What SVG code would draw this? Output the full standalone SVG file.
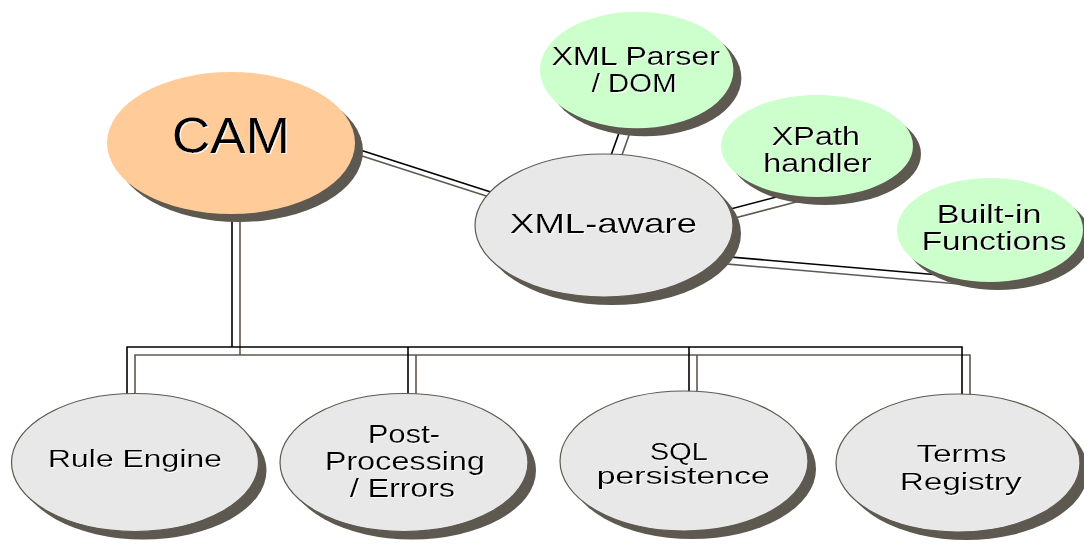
<svg xmlns="http://www.w3.org/2000/svg" xmlns:xlink="http://www.w3.org/1999/xlink" width="1084" height="547" viewBox="0 0 1084 547">
<style>
.shadow{fill:#5e5950;}
.gray{fill:#e8e8e8;stroke:#5e5950;stroke-width:1.2;}
.green{fill:#ccffcc;}
.cam{fill:#ffcc99;}
text{font-family:"Liberation Sans",Arial,sans-serif;fill:#000;filter:url(#ts);}
.line{fill:none;stroke:#000;stroke-width:1.6;}
.line-shadow{fill:none;stroke:#5e5950;stroke-width:1.6;}
</style>
<defs>
<filter id="ts" x="-10%" y="-20%" width="120%" height="140%">
<feFlood flood-color="#ffffff" result="w"/>
<feComposite in="w" in2="SourceAlpha" operator="in" result="wt"/>
<feOffset in="wt" dx="1.3" dy="1.3" result="off"/>
<feMerge><feMergeNode in="off"/><feMergeNode in="SourceGraphic"/></feMerge>
</filter>
<g id="conn-paths">
<path d="M340,143.5 L500,194.9"/>
<path d="M623.6,120 L604,175"/>
<path d="M700,217 L790,193.4"/>
<path d="M700,254.4 L960,276.7"/>
<path d="M232,200 V347"/>
<path d="M127,420 V347 H962 V420"/>
<path d="M408,347 V420"/>
<path d="M689,347 V420"/>
</g>
</defs>
<rect width="1084" height="547" fill="#ffffff"/>
<g id="connectors">
<use xlink:href="#conn-paths" href="#conn-paths" class="line-shadow" transform="translate(8,8)"/>
<use xlink:href="#conn-paths" href="#conn-paths" class="line"/>
</g>
<g id="node-cam">
<ellipse class="shadow" cx="239" cy="151" rx="124" ry="71"/>
<ellipse class="cam" cx="231" cy="143" rx="124" ry="71"/>
<text x="172" y="152.5" font-size="50" textLength="118" lengthAdjust="spacingAndGlyphs">CAM</text>
</g>
<g id="node-xml-aware">
<ellipse class="shadow" cx="612" cy="233.5" rx="129" ry="71.5"/>
<ellipse class="gray" cx="604" cy="225.5" rx="129" ry="71.5"/>
<text x="510" y="233" font-size="28" textLength="187" lengthAdjust="spacingAndGlyphs">XML-aware</text>
</g>
<g id="node-xml-parser">
<ellipse class="shadow" cx="644.7" cy="78" rx="96.7" ry="58.3"/>
<ellipse class="green" cx="636.7" cy="70" rx="96.7" ry="58.3"/>
<text x="551.7" y="65" font-size="25" textLength="168.3" lengthAdjust="spacingAndGlyphs">XML Parser</text>
<text x="591.7" y="91.7" font-size="25" textLength="85" lengthAdjust="spacingAndGlyphs">/ DOM</text>
</g>
<g id="node-xpath">
<ellipse class="shadow" cx="825" cy="154" rx="96" ry="51"/>
<ellipse class="green" cx="817" cy="146" rx="96" ry="51"/>
<text x="771.7" y="145" font-size="25" textLength="88.3" lengthAdjust="spacingAndGlyphs">XPath</text>
<text x="763.3" y="171.7" font-size="25" textLength="108.4" lengthAdjust="spacingAndGlyphs">handler</text>
</g>
<g id="node-builtin">
<ellipse class="shadow" cx="998" cy="238" rx="93" ry="52"/>
<ellipse class="green" cx="990" cy="230" rx="93" ry="52"/>
<text x="936.7" y="223.3" font-size="25" textLength="105" lengthAdjust="spacingAndGlyphs">Built-in</text>
<text x="921.7" y="250" font-size="25" textLength="145" lengthAdjust="spacingAndGlyphs">Functions</text>
</g>
<g id="node-rule-engine">
<ellipse class="shadow" cx="143" cy="470.5" rx="123.5" ry="69"/>
<ellipse class="gray" cx="135" cy="462.5" rx="123.5" ry="69"/>
<text x="48" y="467.3" font-size="23" textLength="174" lengthAdjust="spacingAndGlyphs">Rule Engine</text>
</g>
<g id="node-post-processing">
<ellipse class="shadow" cx="412" cy="470.5" rx="124" ry="69"/>
<ellipse class="gray" cx="404" cy="462.5" rx="124" ry="69"/>
<text x="368" y="443.3" font-size="25" textLength="72" lengthAdjust="spacingAndGlyphs">Post-</text>
<text x="325" y="469.5" font-size="25" textLength="160" lengthAdjust="spacingAndGlyphs">Processing</text>
<text x="350" y="496.7" font-size="25" textLength="105" lengthAdjust="spacingAndGlyphs">/ Errors</text>
</g>
<g id="node-sql">
<ellipse class="shadow" cx="692" cy="469" rx="124" ry="70"/>
<ellipse class="gray" cx="684" cy="461" rx="124" ry="70"/>
<text x="650" y="460" font-size="23" textLength="58" lengthAdjust="spacingAndGlyphs">SQL</text>
<text x="596.7" y="484" font-size="23" textLength="173.3" lengthAdjust="spacingAndGlyphs">persistence</text>
</g>
<g id="node-terms">
<ellipse class="shadow" cx="966" cy="471" rx="122" ry="69"/>
<ellipse class="gray" cx="958" cy="463" rx="122" ry="69"/>
<text x="916.7" y="461.7" font-size="23" textLength="90" lengthAdjust="spacingAndGlyphs">Terms</text>
<text x="900" y="490" font-size="23" textLength="121.7" lengthAdjust="spacingAndGlyphs">Registry</text>
</g>
</svg>
